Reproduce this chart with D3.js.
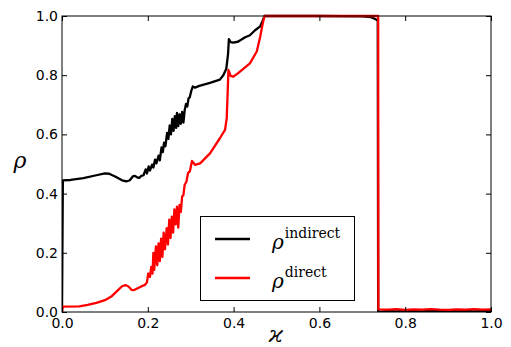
<!DOCTYPE html>
<html><head><meta charset="utf-8">
<script src="https://cdn.jsdelivr.net/npm/d3@7"></script>
<style>body{margin:0;background:#fff}svg{display:block}</style>
</head><body>
<svg id="c" width="511" height="347"></svg>
<script>
const xTicks = [0.0, 0.2, 0.4, 0.6, 0.8, 1.0];
const yTicks = [0.0, 0.2, 0.4, 0.6, 0.8, 1.0];
const seriesNames = ["indirect", "direct"];

const kappaIndirect = [0, 0.002, 0.02, 0.05, 0.08, 0.1, 0.11, 0.125, 0.14, 0.15, 0.158, 0.165, 0.17, 0.175, 0.18, 0.185,
  0.19, 0.195, 0.198, 0.202, 0.205, 0.21, 0.213, 0.217, 0.22, 0.225, 0.228, 0.232, 0.235, 0.238, 0.241, 0.245, 0.248,
  0.251, 0.254, 0.257, 0.26, 0.263, 0.266, 0.268, 0.271, 0.274, 0.277, 0.28, 0.283, 0.286, 0.289, 0.292, 0.295, 0.298,
  0.301, 0.305, 0.31, 0.32, 0.345, 0.368, 0.376, 0.383, 0.387, 0.389, 0.393, 0.399, 0.41, 0.427, 0.438, 0.45, 0.462,
  0.468, 0.472, 0.6, 0.7, 0.72, 0.73, 0.736, 0.737,
  0.76, 0.78, 0.8, 0.82, 0.84, 0.86, 0.88, 0.9, 0.92, 0.94, 0.96, 0.98, 1.0];
const rhoIndirect = [0, 0.445, 0.446, 0.452, 0.462, 0.468, 0.467, 0.457, 0.445, 0.441, 0.445, 0.458, 0.46, 0.455, 0.453, 0.46,
  0.462, 0.482, 0.468, 0.492, 0.478, 0.498, 0.488, 0.515, 0.502, 0.528, 0.512, 0.556, 0.54, 0.572, 0.56, 0.605, 0.585,
  0.63, 0.6, 0.652, 0.612, 0.662, 0.622, 0.673, 0.628, 0.668, 0.636, 0.676, 0.64, 0.682, 0.703, 0.694, 0.722, 0.726,
  0.745, 0.762, 0.758, 0.764, 0.774, 0.785, 0.8, 0.822, 0.87, 0.922, 0.912, 0.91, 0.913, 0.928, 0.935, 0.952, 0.965,
  0.985, 1.0, 1.0, 0.999, 0.996, 0.99, 0.985, 0.0,
  0.003, 0.002, 0.004, 0.003, 0.002, 0.004, 0.003, 0.002, 0.003, 0.004, 0.002, 0.003, 0.003];

const kappaDirect = [0, 0.002, 0.04, 0.06, 0.08, 0.1, 0.115, 0.13, 0.14, 0.148, 0.155, 0.162, 0.168, 0.18, 0.19, 0.193,
  0.198, 0.201, 0.205, 0.208, 0.211, 0.213, 0.215, 0.219, 0.222, 0.225, 0.228, 0.231, 0.234, 0.237, 0.24, 0.244, 0.247,
  0.25, 0.253, 0.256, 0.259, 0.262, 0.265, 0.268, 0.271, 0.274, 0.277, 0.28, 0.283, 0.286, 0.29, 0.294, 0.298, 0.303,
  0.306, 0.31, 0.322, 0.345, 0.368, 0.38, 0.384, 0.388, 0.393, 0.399, 0.41, 0.438, 0.454, 0.462, 0.468, 0.472,
  0.737, 0.7375, 0.76, 0.78, 0.8, 0.82, 0.84, 0.86, 0.88, 0.9, 0.92, 0.94, 0.96, 0.98, 1.0];
const rhoDirect = [0, 0.018, 0.019, 0.024, 0.031, 0.04, 0.052, 0.073, 0.087, 0.091, 0.086, 0.075, 0.074, 0.083, 0.09, 0.091,
  0.1, 0.13, 0.118, 0.152, 0.13, 0.2, 0.142, 0.222, 0.158, 0.232, 0.172, 0.248, 0.186, 0.268, 0.212, 0.283, 0.228,
  0.312, 0.25, 0.322, 0.268, 0.347, 0.296, 0.356, 0.285, 0.362, 0.338, 0.39, 0.395, 0.43, 0.44, 0.47, 0.475, 0.51,
  0.505, 0.497, 0.502, 0.536, 0.587, 0.615, 0.655, 0.818, 0.798, 0.795, 0.806, 0.84, 0.88, 0.93, 0.975, 1.0,
  1.0, 0.009, 0.008, 0.01, 0.007, 0.009, 0.008, 0.01, 0.008, 0.007, 0.009, 0.008, 0.01, 0.008, 0.009];

const svg = d3.select("#c");
const L = 62, R = 491, T = 16, B = 312;
const x = d3.scaleLinear().domain([0, 1]).range([L, R]);
const y = d3.scaleLinear().domain([0, 1]).range([B, T]);

const clip = svg.append("defs").append("clipPath").attr("id", "clp");
clip.append("rect").attr("x", L).attr("y", T - 2).attr("width", R - L).attr("height", B - T + 2);

const line = d3.line().x(d => x(d[0])).y(d => y(d[1]));
const dataInd = kappaIndirect.map((k, i) => [k, rhoIndirect[i]]);
const dataDir = kappaDirect.map((k, i) => [k, rhoDirect[i]]);

const g = svg.append("g").attr("clip-path", "url(#clp)");
g.append("path").datum(dataInd).attr("d", line).attr("fill", "none").attr("stroke", "#000").attr("stroke-width", 2.3).attr("stroke-linejoin", "round");
g.append("path").datum(dataDir).attr("d", line).attr("fill", "none").attr("stroke", "#ff0000").attr("stroke-width", 2.3).attr("stroke-linejoin", "round");

const tk = 5;
const fontT = "DejaVu Sans, sans-serif";
const axB = svg.append("g").attr("transform", `translate(0,${B})`)
  .call(d3.axisBottom(x).tickValues(xTicks).tickFormat(d3.format(".1f")).tickSizeInner(-tk).tickSizeOuter(0).tickPadding(8));
const axT = svg.append("g").attr("transform", `translate(0,${T})`)
  .call(d3.axisTop(x).tickValues(xTicks).tickFormat("").tickSizeInner(-tk).tickSizeOuter(0));
const axL = svg.append("g").attr("transform", `translate(${L},0)`)
  .call(d3.axisLeft(y).tickValues(yTicks).tickFormat(d3.format(".1f")).tickSizeInner(-tk).tickSizeOuter(0).tickPadding(4));
const axR = svg.append("g").attr("transform", `translate(${R},0)`)
  .call(d3.axisRight(y).tickValues(yTicks).tickFormat("").tickSizeInner(-tk).tickSizeOuter(0));
[axB, axT, axL, axR].forEach(a => {
  a.select(".domain").remove();
  a.selectAll("line").attr("stroke", "#000");
  a.selectAll("text").attr("font-family", fontT).attr("font-size", 14).attr("fill", "#000");
});
axB.selectAll("text").attr("dy", "0.71em").attr("y", 6);
svg.append("rect").attr("x", L).attr("y", T).attr("width", R - L).attr("height", B - T)
  .attr("fill", "none").attr("stroke", "#000").attr("stroke-width", 1);

svg.append("text").attr("x", 20).attr("y", 168).attr("text-anchor", "middle")
  .attr("font-family", "DejaVu Serif, serif").attr("font-style", "italic").attr("font-size", 22).text("ρ");
svg.append("text").attr("x", 276).attr("y", 342).attr("text-anchor", "middle")
  .attr("font-family", "DejaVu Serif, serif").attr("font-style", "italic").attr("font-size", 23).text("ϰ");

const lg = svg.append("g");
lg.append("rect").attr("x", 200.5).attr("y", 216.5).attr("width", 154).attr("height", 84)
  .attr("fill", "#fff").attr("stroke", "#000").attr("stroke-width", 1);
const colors = ["#000", "#ff0000"];
seriesNames.forEach((s, i) => {
  const yy = 239 + i * 39;
  lg.append("line").attr("x1", 215).attr("x2", 250).attr("y1", yy).attr("y2", yy)
    .attr("stroke", colors[i]).attr("stroke-width", 2.3);
  const t = lg.append("text").attr("x", 272).attr("y", yy + 10).attr("font-family", "DejaVu Serif, serif");
  t.append("tspan").attr("font-style", "italic").attr("font-size", 20).text("ρ");
  t.append("tspan").attr("font-size", 14).attr("dy", -11).attr("dx", 1).text(s);
});
</script>
</body></html>
